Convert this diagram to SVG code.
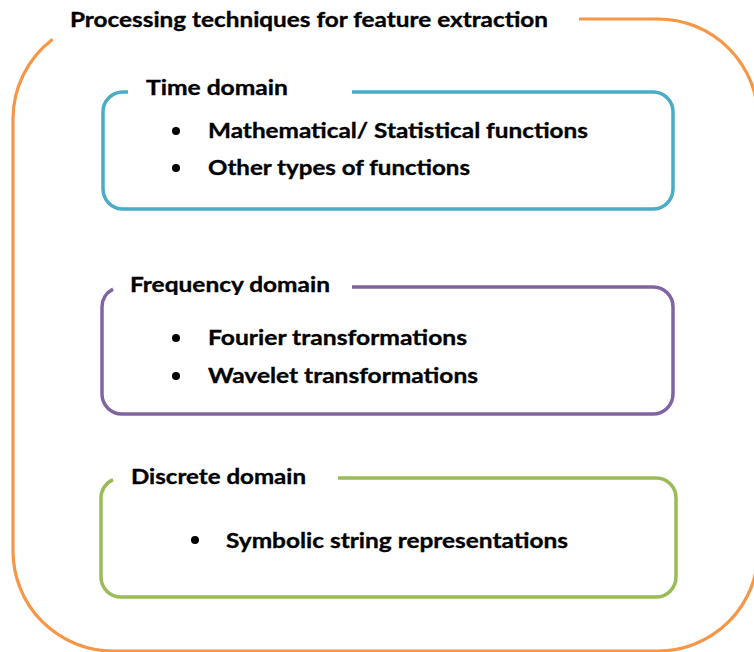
<svg xmlns="http://www.w3.org/2000/svg" width="754" height="652" viewBox="0 0 754 652">
<style>
.frame{fill:none;stroke-linecap:butt}
.t{font-family:Lato,"Open Sans","Liberation Sans",sans-serif;font-weight:bold;font-size:21.5px;fill:#000;stroke:#000;stroke-width:0.35px}
.b{fill:#000}
</style>
<defs>
<clipPath id="clipFreq"><rect x="120" y="260" width="240" height="35"/></clipPath>
</defs>
<rect x="0" y="0" width="754" height="652" fill="#fff"/>
<g id="outer">
<path class="frame" stroke="#F79646" stroke-width="3.2" d="M579 19 H658 A100 100 0 0 1 758 119 V551 A100 100 0 0 1 658 651 H113 A100 100 0 0 1 13 551 V119 A100 100 0 0 1 52.7 39.2"/>
<text class="t" x="70" y="27" textLength="478" lengthAdjust="spacingAndGlyphs">Processing techniques for feature extraction</text>
</g>
<g id="time-domain">
<path class="frame" stroke="#4BACC6" stroke-width="3.5" d="M352 92 H653 A20 20 0 0 1 673 112 V189 A20 20 0 0 1 653 209 H123 A20 20 0 0 1 103 189 V112 A20 20 0 0 1 123 92 H128"/>
<text class="t" x="146" y="95" textLength="142" lengthAdjust="spacingAndGlyphs">Time domain</text>
<circle class="b" cx="176" cy="131" r="4"/>
<text class="t" x="208" y="138" textLength="380" lengthAdjust="spacingAndGlyphs">Mathematical/ Statistical functions</text>
<circle class="b" cx="176" cy="168" r="4"/>
<text class="t" x="208" y="175" textLength="262" lengthAdjust="spacingAndGlyphs">Other types of functions</text>
</g>
<g id="frequency-domain">
<path class="frame" stroke="#8064A2" stroke-width="3.5" d="M352 287 H653 A20 20 0 0 1 673 307 V394 A20 20 0 0 1 653 414 H122 A20 20 0 0 1 102 394 V307 A20 20 0 0 1 113 289.1"/>
<text class="t" x="130" y="292" textLength="200" lengthAdjust="spacingAndGlyphs" clip-path="url(#clipFreq)">Frequency domain</text>
<circle class="b" cx="176" cy="338" r="4"/>
<text class="t" x="208" y="345" textLength="259" lengthAdjust="spacingAndGlyphs">Fourier transformations</text>
<circle class="b" cx="176" cy="376" r="4"/>
<text class="t" x="208" y="383" textLength="270" lengthAdjust="spacingAndGlyphs">Wavelet transformations</text>
</g>
<g id="discrete-domain">
<path class="frame" stroke="#9BBB59" stroke-width="3.5" d="M338 478 H656 A20 20 0 0 1 676 498 V577 A20 20 0 0 1 656 597 H121 A20 20 0 0 1 101 577 V498 A20 20 0 0 1 113 479.7"/>
<text class="t" x="131" y="484" textLength="175" lengthAdjust="spacingAndGlyphs">Discrete domain</text>
<circle class="b" cx="195" cy="540" r="4"/>
<text class="t" x="226" y="548" textLength="342" lengthAdjust="spacingAndGlyphs">Symbolic string representations</text>
</g>
</svg>
